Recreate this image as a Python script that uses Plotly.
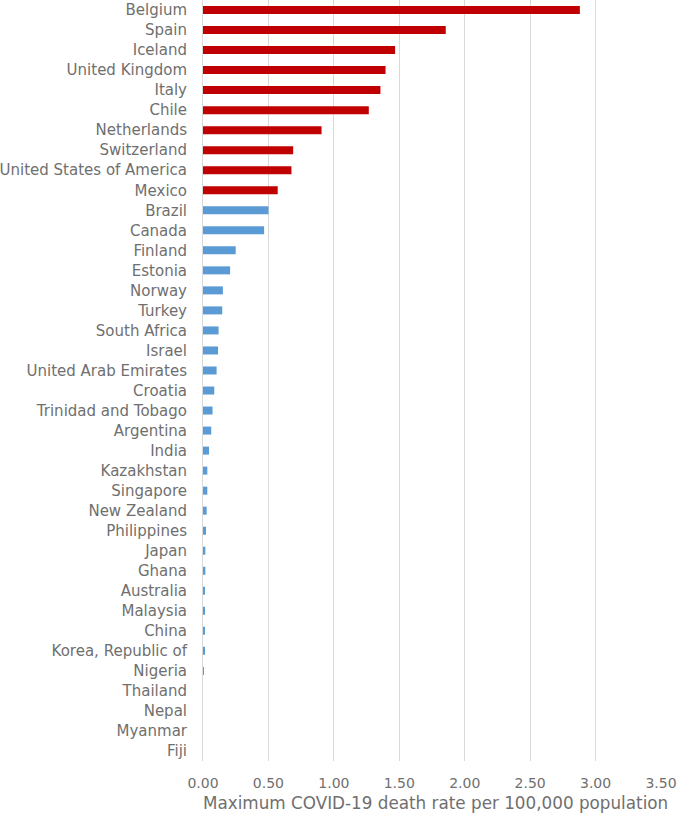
import plotly.graph_objects as go

countries = ["Belgium", "Spain", "Iceland", "United Kingdom", "Italy", "Chile",
             "Netherlands", "Switzerland", "United States of America", "Mexico",
             "Brazil", "Canada", "Finland", "Estonia", "Norway", "Turkey",
             "South Africa", "Israel", "United Arab Emirates", "Croatia",
             "Trinidad and Tobago", "Argentina", "India", "Kazakhstan", "Singapore",
             "New Zealand", "Philippines", "Japan", "Ghana", "Australia", "Malaysia",
             "China", "Korea, Republic of", "Nigeria", "Thailand", "Nepal",
             "Myanmar", "Fiji"]
death_rate = [2.88, 1.855, 1.468, 1.395, 1.356, 1.267, 0.906, 0.689, 0.676, 0.571,
              0.500, 0.467, 0.250, 0.207, 0.152, 0.147, 0.119, 0.115, 0.104, 0.086,
              0.073, 0.063, 0.046, 0.033, 0.033, 0.028, 0.023, 0.018, 0.018, 0.013,
              0.010, 0.010, 0.010, 0.003, 0.0, 0.0, 0.0, 0.0]
highlighted_count = 10
x_ticks = [0, 0.5, 1.0, 1.5, 2.0, 2.5, 3.0, 3.5]
x_title = "Maximum COVID-19 death rate per 100,000 population"

colors = ["#C00000" if i < highlighted_count else "#5B9BD5" for i in range(len(countries))]

fig = go.Figure(go.Bar(
    x=death_rate, y=countries, orientation="h",
    marker=dict(color=colors, line=dict(width=0)),
    width=0.4,
))

font_color = "#6f6f6f"
fig.update_layout(
    width=678, height=814,
    margin=dict(l=201, r=17, t=0, b=53),
    plot_bgcolor="white", paper_bgcolor="white",
    font=dict(family="DejaVu Sans", size=13, color=font_color),
    showlegend=False,
)
fig.add_annotation(
    text=x_title, xref="paper", yref="paper", x=0.508, y=0,
    yshift=-42, xanchor="center", yanchor="middle", showarrow=False,
    font=dict(size=16.8, color=font_color),
)
fig.update_xaxes(
    range=[0, 3.5], tickvals=x_ticks, tickformat=".2f",
    showgrid=True, gridcolor="#d9d9d9", gridwidth=1,
    zeroline=False, showline=False,
    ticks="", ticklen=0, ticklabelstandoff=12,
    tickfont=dict(size=14, color=font_color),
)
fig.update_yaxes(
    categoryorder="array", categoryarray=countries, autorange="reversed",
    showline=True, linecolor="#d9d9d9", linewidth=1,
    showgrid=False, ticks="", ticklen=0, ticklabelstandoff=12,
    tickfont=dict(size=15, color=font_color),
)

fig.write_html("out.html", config={"displayModeBar": False},
               post_script="document.body.style.margin='0';")
